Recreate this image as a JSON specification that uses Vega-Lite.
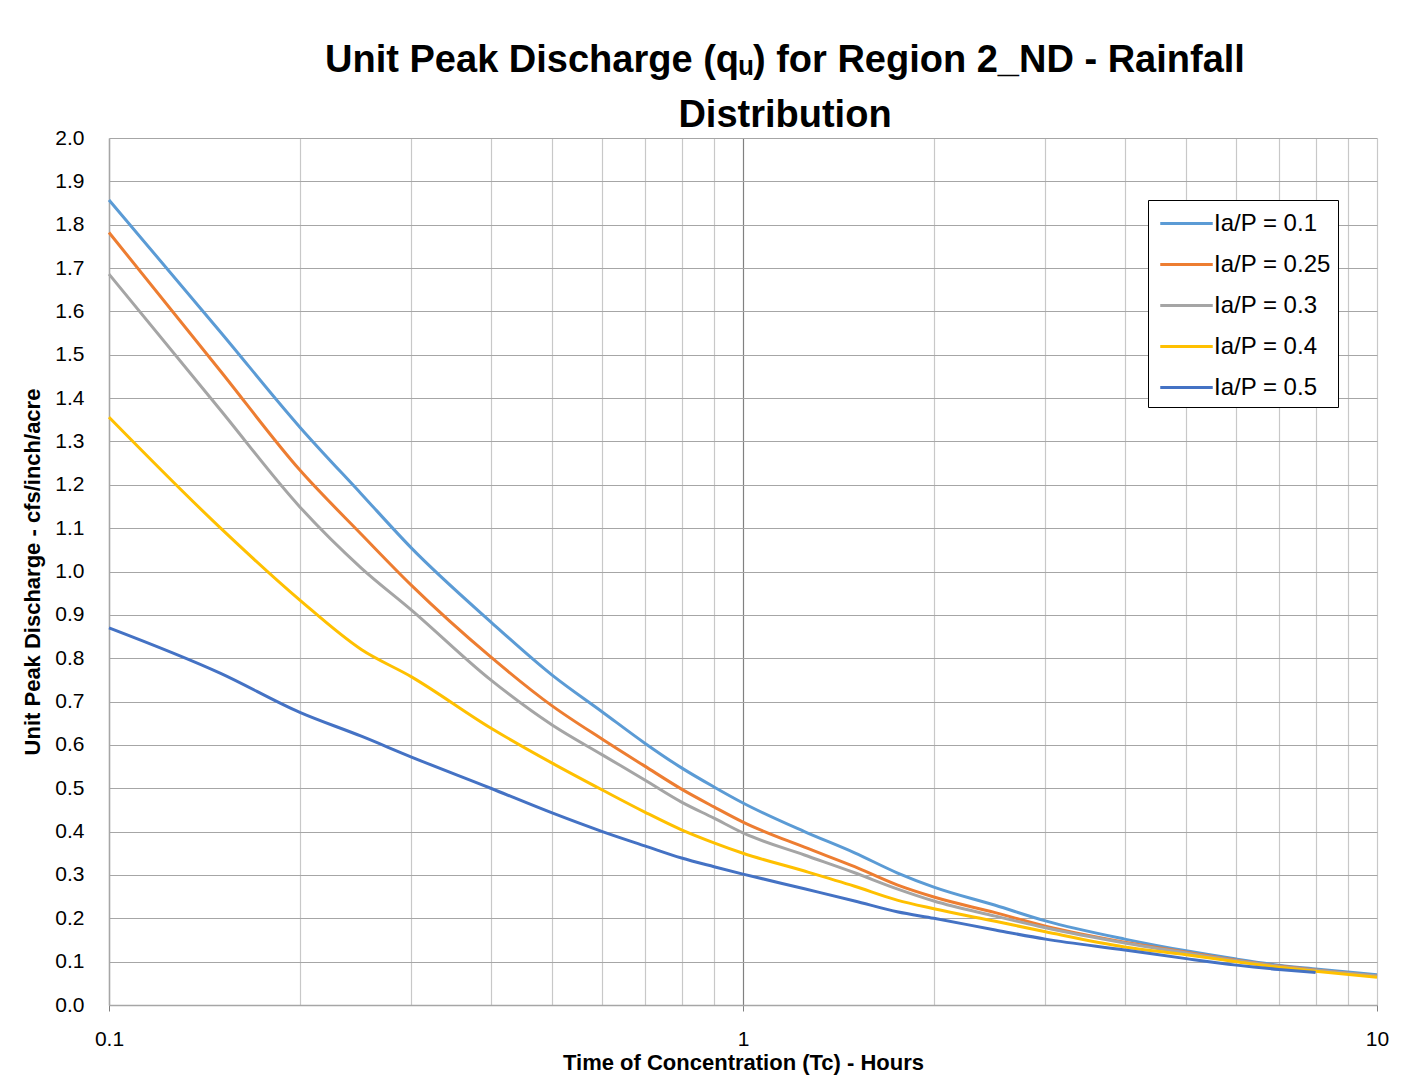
{
  "$schema": "https://vega.github.io/schema/vega-lite/v6.json",
  "width": 1268,
  "height": 867,
  "autosize": {"type": "none"},
  "padding": {"left": 109, "top": 138, "right": 43, "bottom": 77},
  "background": "white",
  "config": {
    "font": "Liberation Sans",
    "view": {"stroke": null}
  },
  "title": {
    "text": ["Unit Peak Discharge (qᵤ) for Region 2_ND - Rainfall", "Distribution"],
    "fontSize": 38,
    "fontWeight": "bold",
    "font": "Liberation Sans",
    "color": "#000000",
    "anchor": "middle",
    "dx": 42,
    "offset": -8,
    "lineHeight": 55
  },
  "data": {
    "values": [
      {"tc": 0.1, "s": "Ia/P = 0.1", "q": 1.857},
      {"tc": 0.15, "s": "Ia/P = 0.1", "q": 1.552},
      {"tc": 0.2, "s": "Ia/P = 0.1", "q": 1.333},
      {"tc": 0.25, "s": "Ia/P = 0.1", "q": 1.179},
      {"tc": 0.3, "s": "Ia/P = 0.1", "q": 1.054},
      {"tc": 0.4, "s": "Ia/P = 0.1", "q": 0.884},
      {"tc": 0.5, "s": "Ia/P = 0.1", "q": 0.761},
      {"tc": 0.6, "s": "Ia/P = 0.1", "q": 0.676},
      {"tc": 0.7, "s": "Ia/P = 0.1", "q": 0.604},
      {"tc": 0.8, "s": "Ia/P = 0.1", "q": 0.547},
      {"tc": 0.9, "s": "Ia/P = 0.1", "q": 0.503},
      {"tc": 1.0, "s": "Ia/P = 0.1", "q": 0.466},
      {"tc": 1.25, "s": "Ia/P = 0.1", "q": 0.4},
      {"tc": 1.5, "s": "Ia/P = 0.1", "q": 0.351},
      {"tc": 1.75, "s": "Ia/P = 0.1", "q": 0.305},
      {"tc": 2, "s": "Ia/P = 0.1", "q": 0.272},
      {"tc": 2.5, "s": "Ia/P = 0.1", "q": 0.23},
      {"tc": 3, "s": "Ia/P = 0.1", "q": 0.194},
      {"tc": 4, "s": "Ia/P = 0.1", "q": 0.152},
      {"tc": 5, "s": "Ia/P = 0.1", "q": 0.125},
      {"tc": 6, "s": "Ia/P = 0.1", "q": 0.106},
      {"tc": 7, "s": "Ia/P = 0.1", "q": 0.092},
      {"tc": 8, "s": "Ia/P = 0.1", "q": 0.083},
      {"tc": 10, "s": "Ia/P = 0.1", "q": 0.07},

      {"tc": 0.1, "s": "Ia/P = 0.25", "q": 1.782},
      {"tc": 0.15, "s": "Ia/P = 0.25", "q": 1.462},
      {"tc": 0.2, "s": "Ia/P = 0.25", "q": 1.234},
      {"tc": 0.25, "s": "Ia/P = 0.25", "q": 1.086},
      {"tc": 0.3, "s": "Ia/P = 0.25", "q": 0.968},
      {"tc": 0.4, "s": "Ia/P = 0.25", "q": 0.803},
      {"tc": 0.5, "s": "Ia/P = 0.25", "q": 0.69},
      {"tc": 0.6, "s": "Ia/P = 0.25", "q": 0.613},
      {"tc": 0.7, "s": "Ia/P = 0.25", "q": 0.551},
      {"tc": 0.8, "s": "Ia/P = 0.25", "q": 0.498},
      {"tc": 0.9, "s": "Ia/P = 0.25", "q": 0.457},
      {"tc": 1.0, "s": "Ia/P = 0.25", "q": 0.422},
      {"tc": 1.25, "s": "Ia/P = 0.25", "q": 0.364},
      {"tc": 1.5, "s": "Ia/P = 0.25", "q": 0.319},
      {"tc": 1.75, "s": "Ia/P = 0.25", "q": 0.277},
      {"tc": 2, "s": "Ia/P = 0.25", "q": 0.249},
      {"tc": 2.5, "s": "Ia/P = 0.25", "q": 0.213},
      {"tc": 3, "s": "Ia/P = 0.25", "q": 0.182},
      {"tc": 4, "s": "Ia/P = 0.25", "q": 0.145},
      {"tc": 5, "s": "Ia/P = 0.25", "q": 0.122},
      {"tc": 6, "s": "Ia/P = 0.25", "q": 0.103},
      {"tc": 7, "s": "Ia/P = 0.25", "q": 0.09},
      {"tc": 8, "s": "Ia/P = 0.25", "q": 0.081},
      {"tc": 10, "s": "Ia/P = 0.25", "q": 0.067},

      {"tc": 0.1, "s": "Ia/P = 0.3", "q": 1.686},
      {"tc": 0.15, "s": "Ia/P = 0.3", "q": 1.372},
      {"tc": 0.2, "s": "Ia/P = 0.3", "q": 1.149},
      {"tc": 0.25, "s": "Ia/P = 0.3", "q": 1.008},
      {"tc": 0.3, "s": "Ia/P = 0.3", "q": 0.911},
      {"tc": 0.4, "s": "Ia/P = 0.3", "q": 0.75},
      {"tc": 0.5, "s": "Ia/P = 0.3", "q": 0.646},
      {"tc": 0.6, "s": "Ia/P = 0.3", "q": 0.577},
      {"tc": 0.7, "s": "Ia/P = 0.3", "q": 0.519},
      {"tc": 0.8, "s": "Ia/P = 0.3", "q": 0.468},
      {"tc": 0.9, "s": "Ia/P = 0.3", "q": 0.431},
      {"tc": 1.0, "s": "Ia/P = 0.3", "q": 0.397},
      {"tc": 1.25, "s": "Ia/P = 0.3", "q": 0.346},
      {"tc": 1.5, "s": "Ia/P = 0.3", "q": 0.305},
      {"tc": 1.75, "s": "Ia/P = 0.3", "q": 0.268},
      {"tc": 2, "s": "Ia/P = 0.3", "q": 0.24},
      {"tc": 2.5, "s": "Ia/P = 0.3", "q": 0.205},
      {"tc": 3, "s": "Ia/P = 0.3", "q": 0.178},
      {"tc": 4, "s": "Ia/P = 0.3", "q": 0.143},
      {"tc": 5, "s": "Ia/P = 0.3", "q": 0.12},
      {"tc": 6, "s": "Ia/P = 0.3", "q": 0.102},
      {"tc": 7, "s": "Ia/P = 0.3", "q": 0.089},
      {"tc": 8, "s": "Ia/P = 0.3", "q": 0.08},
      {"tc": 10, "s": "Ia/P = 0.3", "q": 0.067},

      {"tc": 0.1, "s": "Ia/P = 0.4", "q": 1.356},
      {"tc": 0.15, "s": "Ia/P = 0.4", "q": 1.1},
      {"tc": 0.2, "s": "Ia/P = 0.4", "q": 0.934},
      {"tc": 0.25, "s": "Ia/P = 0.4", "q": 0.82},
      {"tc": 0.3, "s": "Ia/P = 0.4", "q": 0.757},
      {"tc": 0.4, "s": "Ia/P = 0.4", "q": 0.639},
      {"tc": 0.5, "s": "Ia/P = 0.4", "q": 0.558},
      {"tc": 0.6, "s": "Ia/P = 0.4", "q": 0.496},
      {"tc": 0.7, "s": "Ia/P = 0.4", "q": 0.445},
      {"tc": 0.8, "s": "Ia/P = 0.4", "q": 0.404},
      {"tc": 0.9, "s": "Ia/P = 0.4", "q": 0.374},
      {"tc": 1.0, "s": "Ia/P = 0.4", "q": 0.35},
      {"tc": 1.25, "s": "Ia/P = 0.4", "q": 0.309},
      {"tc": 1.5, "s": "Ia/P = 0.4", "q": 0.274},
      {"tc": 1.75, "s": "Ia/P = 0.4", "q": 0.242},
      {"tc": 2, "s": "Ia/P = 0.4", "q": 0.222},
      {"tc": 2.5, "s": "Ia/P = 0.4", "q": 0.193},
      {"tc": 3, "s": "Ia/P = 0.4", "q": 0.169},
      {"tc": 4, "s": "Ia/P = 0.4", "q": 0.134},
      {"tc": 5, "s": "Ia/P = 0.4", "q": 0.116},
      {"tc": 6, "s": "Ia/P = 0.4", "q": 0.1},
      {"tc": 7, "s": "Ia/P = 0.4", "q": 0.087},
      {"tc": 8, "s": "Ia/P = 0.4", "q": 0.078},
      {"tc": 10, "s": "Ia/P = 0.4", "q": 0.064},

      {"tc": 0.1, "s": "Ia/P = 0.5", "q": 0.87},
      {"tc": 0.15, "s": "Ia/P = 0.5", "q": 0.765},
      {"tc": 0.2, "s": "Ia/P = 0.5", "q": 0.675},
      {"tc": 0.25, "s": "Ia/P = 0.5", "q": 0.62},
      {"tc": 0.3, "s": "Ia/P = 0.5", "q": 0.572},
      {"tc": 0.4, "s": "Ia/P = 0.5", "q": 0.5},
      {"tc": 0.5, "s": "Ia/P = 0.5", "q": 0.443},
      {"tc": 0.6, "s": "Ia/P = 0.5", "q": 0.4},
      {"tc": 0.7, "s": "Ia/P = 0.5", "q": 0.367},
      {"tc": 0.8, "s": "Ia/P = 0.5", "q": 0.339},
      {"tc": 0.9, "s": "Ia/P = 0.5", "q": 0.319},
      {"tc": 1.0, "s": "Ia/P = 0.5", "q": 0.302},
      {"tc": 1.25, "s": "Ia/P = 0.5", "q": 0.268},
      {"tc": 1.5, "s": "Ia/P = 0.5", "q": 0.24},
      {"tc": 1.75, "s": "Ia/P = 0.5", "q": 0.215},
      {"tc": 2, "s": "Ia/P = 0.5", "q": 0.2},
      {"tc": 2.5, "s": "Ia/P = 0.5", "q": 0.173},
      {"tc": 3, "s": "Ia/P = 0.5", "q": 0.152},
      {"tc": 4, "s": "Ia/P = 0.5", "q": 0.127},
      {"tc": 5, "s": "Ia/P = 0.5", "q": 0.107},
      {"tc": 6, "s": "Ia/P = 0.5", "q": 0.092},
      {"tc": 7, "s": "Ia/P = 0.5", "q": 0.082},
      {"tc": 8, "s": "Ia/P = 0.5", "q": 0.075}
    ]
  },
  "mark": {"type": "line", "strokeWidth": 3, "interpolate": "monotone"},
  "encoding": {
    "x": {
      "field": "tc",
      "type": "quantitative",
      "scale": {"type": "log", "domain": [0.1, 10], "nice": false},
      "axis": {
        "title": "Time of Concentration (Tc) - Hours",
        "titleFontSize": 22,
        "titleFontWeight": "bold",
        "titleColor": "#000000",
        "titlePadding": 3,
        "values": [0.1, 0.2, 0.3, 0.4, 0.5, 0.6, 0.7, 0.8, 0.9, 1, 2, 3, 4, 5, 6, 7, 8, 9, 10],
        "format": "~g",
        "labelExpr": "(datum.value == 0.1 || datum.value == 1 || datum.value == 10) ? datum.label : ''",
        "labelFontSize": 21,
        "labelColor": "#000000",
        "labelFlush": false,
        "labelPadding": 17,
        "tickSize": 6,
        "tickColor": "#808080",
        "tickOpacity": {"condition": {"test": "datum.value == 0.1 || datum.value == 1 || datum.value == 10", "value": 1}, "value": 0},
        "domainColor": "#a6a6a6",
        "domainWidth": 1.5,
        "gridColor": {"condition": {"test": "datum.value == 1", "value": "#808080"}, "value": "#c8c8c8"},
        "gridWidth": 1.2
      }
    },
    "y": {
      "field": "q",
      "type": "quantitative",
      "scale": {"domain": [0, 2], "nice": false},
      "axis": {
        "title": "Unit Peak Discharge - cfs/inch/acre",
        "titleFontSize": 22,
        "titleFontWeight": "bold",
        "titleColor": "#000000",
        "titlePadding": 10,
        "values": [0, 0.1, 0.2, 0.3, 0.4, 0.5, 0.6, 0.7, 0.8, 0.9, 1, 1.1, 1.2, 1.3, 1.4, 1.5, 1.6, 1.7, 1.8, 1.9, 2],
        "format": ".1f",
        "labelFontSize": 21,
        "labelColor": "#000000",
        "labelPadding": 25,
        "ticks": false,
        "domainColor": "#a6a6a6",
        "domainWidth": 1.5,
        "gridColor": "#a6a6a6",
        "gridWidth": 1.2
      }
    },
    "color": {
      "field": "s",
      "type": "nominal",
      "scale": {
        "domain": ["Ia/P = 0.1", "Ia/P = 0.25", "Ia/P = 0.3", "Ia/P = 0.4", "Ia/P = 0.5"],
        "range": ["#5B9BD5", "#ED7D31", "#A5A5A5", "#FFC000", "#4472C4"]
      },
      "legend": {
        "title": null,
        "orient": "none",
        "legendX": 1039,
        "legendY": 62,
        "strokeColor": "#000000",
        "fillColor": "#ffffff",
        "padding": 7,
        "symbolType": "M-1.75,0L1.75,0",
        "symbolStrokeWidth": 3,
        "symbolSize": 900,
        "symbolOffset": 15,
        "labelFontSize": 24,
        "labelColor": "#000000",
        "labelOffset": 11,
        "rowPadding": 12
      }
    }
  }
}
